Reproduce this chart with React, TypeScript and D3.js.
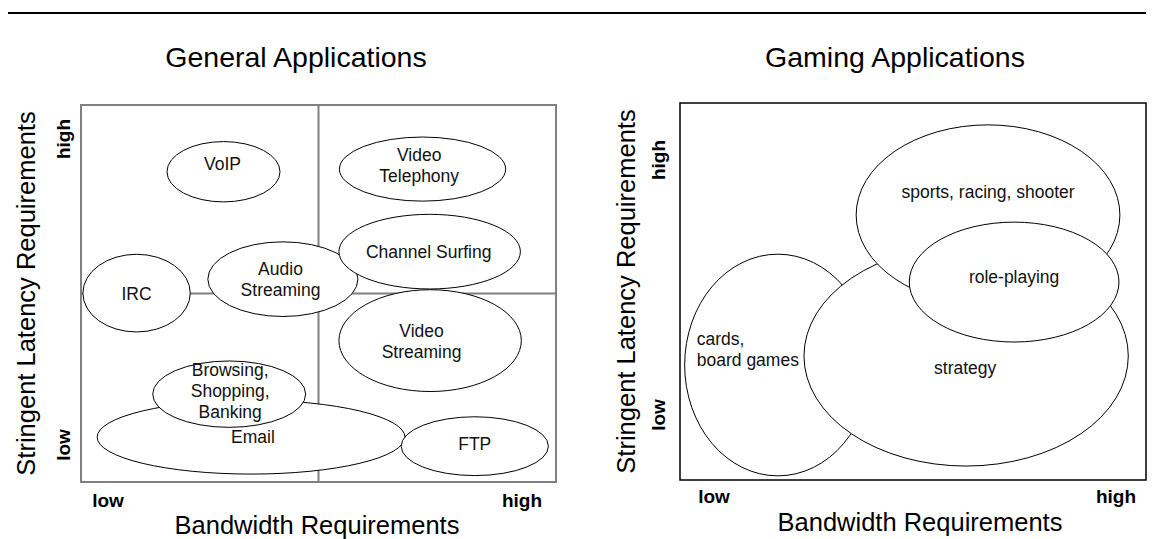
import React from "react";
import * as d3 from "d3";

// ---------- Data (domain 0..100 on both axes: bandwidth / latency stringency) ----------
const generalNames = ["Email", "FTP", "Browsing", "VideoStreaming", "IRC", "AudioStreaming", "ChannelSurfing", "VoIP", "VideoTelephony"];
const generalLabels = [["Email"], ["FTP"], ["Browsing,", "Shopping,", "Banking"], ["Video", "Streaming"], ["IRC"], ["Audio", "Streaming"], ["Channel Surfing"], ["VoIP"], ["Video", "Telephony"]];
const generalCx = [35.8, 82.9, 31.2, 73.5, 11.7, 42.5, 73.4, 30.0, 71.9];
const generalCy = [11.9, 9.5, 23.3, 37.5, 50.1, 53.8, 61.1, 82.3, 83.0];
const generalRx = [32.4, 15.5, 16.1, 19.2, 11.3, 15.8, 19.1, 11.9, 17.5];
const generalRy = [9.8, 7.8, 8.8, 13.5, 10.3, 9.9, 9.9, 8.0, 8.5];
const generalLabelX = [36.2, 82.9, 31.4, 71.7, 11.7, 42.0, 73.2, 29.8, 71.2];
const generalLabelY = [11.9, 10.1, 24.1, 37.4, 49.9, 53.7, 61.0, 84.4, 84.0];

const gamingNames = ["cards", "strategy", "sports", "roleplaying"];
const gamingLabels = [["cards,", "board games"], ["strategy"], ["sports, racing, shooter"], ["role-playing"]];
const gamingCx = [21.0, 61.4, 66.1, 71.7];
const gamingCy = [30.5, 32.9, 70.3, 52.5];
const gamingRx = [20.0, 34.8, 28.3, 22.5];
const gamingRy = [29.4, 29.2, 23.9, 15.9];
const gamingLabelX = [3.6, 61.2, 66.1, 71.7];
const gamingLabelY = [34.7, 29.7, 76.4, 53.8];
const gamingAnchor = ["start", "middle", "middle", "middle"];

const quadrantSplit = [50, 50];
const tickLabels = ["low", "high"];
const titles = ["General Applications", "Gaming Applications"];
const xAxisTitle = "Bandwidth Requirements";
const yAxisTitle = "Stringent Latency Requirements";

const FONT = "'Liberation Sans', Arial, Helvetica, sans-serif";

type PanelProps = {
  x0: number; x1: number; y0: number; y1: number;
  title: string; titleX: number;
  cx: number[]; cy: number[]; rx: number[]; ry: number[];
  labels: string[][]; lx: number[]; ly: number[]; anchors?: string[];
  frameColor: string; frameWidth: number; quadrants: boolean;
  yTitleX: number; yTickX: number; yTickHigh: number; yTickLow: number;
  xTickY: number; xTickLow: number; xTickHigh: number; xTitleY: number; xTitleX: number;
};

function Panel(p: PanelProps) {
  const xs = d3.scaleLinear().domain([0, 100]).range([p.x0, p.x1]);
  const ys = d3.scaleLinear().domain([0, 100]).range([p.y1, p.y0]);
  const lh = 21;
  const midY = (p.y0 + p.y1) / 2;
  return (
    <g>
      <text x={p.titleX} y={67} textAnchor="middle" fontFamily={FONT} fontSize={28.5} fill="#000">{p.title}</text>
      <rect x={p.x0} y={p.y0} width={p.x1 - p.x0} height={p.y1 - p.y0} fill="#fff" stroke={p.frameColor} strokeWidth={p.frameWidth} />
      {p.quadrants && (
        <g stroke={p.frameColor} strokeWidth={p.frameWidth}>
          <line x1={xs(quadrantSplit[0])} x2={xs(quadrantSplit[0])} y1={p.y0} y2={p.y1} />
          <line x1={p.x0} x2={p.x1} y1={ys(quadrantSplit[1])} y2={ys(quadrantSplit[1])} />
        </g>
      )}
      {p.cx.map((c, i) => (
        <ellipse key={"e" + i} cx={xs(c)} cy={ys(p.cy[i])} rx={xs(p.rx[i]) - xs(0)} ry={ys(0) - ys(p.ry[i])} fill="#fff" stroke="#000" strokeWidth={1} />
      ))}
      {p.labels.map((lines, i) => {
        const n = lines.length;
        const cyPx = ys(p.ly[i]);
        return (
          <text key={"t" + i} x={xs(p.lx[i])} textAnchor={(p.anchors ? p.anchors[i] : "middle") as any} fontFamily={FONT} fontSize={17.5} fill="#111">
            {lines.map((ln, j) => (
              <tspan key={j} x={xs(p.lx[i])} y={cyPx + (j - (n - 1) / 2) * lh + 6}>{ln}</tspan>
            ))}
          </text>
        );
      })}
      <text transform={`translate(${p.yTitleX},${midY}) rotate(-90)`} textAnchor="middle" fontFamily={FONT} fontSize={25.5} fill="#000">{yAxisTitle}</text>
      <text transform={`translate(${p.yTickX},${p.yTickHigh}) rotate(-90)`} textAnchor="middle" fontFamily={FONT} fontSize={19} fontWeight="bold" fill="#000">{tickLabels[1]}</text>
      <text transform={`translate(${p.yTickX},${p.yTickLow}) rotate(-90)`} textAnchor="middle" fontFamily={FONT} fontSize={19} fontWeight="bold" fill="#000">{tickLabels[0]}</text>
      <text x={p.xTickLow} y={p.xTickY} textAnchor="middle" fontFamily={FONT} fontSize={19} fontWeight="bold" fill="#000">{tickLabels[0]}</text>
      <text x={p.xTickHigh} y={p.xTickY} textAnchor="middle" fontFamily={FONT} fontSize={19} fontWeight="bold" fill="#000">{tickLabels[1]}</text>
      <text x={p.xTitleX} y={p.xTitleY} textAnchor="middle" fontFamily={FONT} fontSize={25.5} fill="#000">{xAxisTitle}</text>
    </g>
  );
}

export default function App() {
  return (
    <svg width={1154} height={539} style={{ position: "absolute", left: 0, top: 0, background: "#fff" }}>
      <line x1={8} x2={1146} y1={13} y2={13} stroke="#000" strokeWidth={2} />
      <Panel
        x0={81} x1={556} y0={105} y1={482}
        title={titles[0]} titleX={296}
        cx={generalCx} cy={generalCy} rx={generalRx} ry={generalRy}
        labels={generalLabels} lx={generalLabelX} ly={generalLabelY}
        frameColor="#808080" frameWidth={2} quadrants={true}
        yTitleX={35} yTickX={70} yTickHigh={139} yTickLow={445}
        xTickY={507} xTickLow={108} xTickHigh={522} xTitleY={534} xTitleX={317}
      />
      <Panel
        x0={680} x1={1146} y0={103} y1={480}
        title={titles[1]} titleX={895}
        cx={gamingCx} cy={gamingCy} rx={gamingRx} ry={gamingRy}
        labels={gamingLabels} lx={gamingLabelX} ly={gamingLabelY} anchors={gamingAnchor}
        frameColor="#000" frameWidth={1.5} quadrants={false}
        yTitleX={635} yTickX={665} yTickHigh={160} yTickLow={415}
        xTickY={503} xTickLow={714} xTickHigh={1116} xTitleY={531} xTitleX={920}
      />
    </svg>
  );
}
